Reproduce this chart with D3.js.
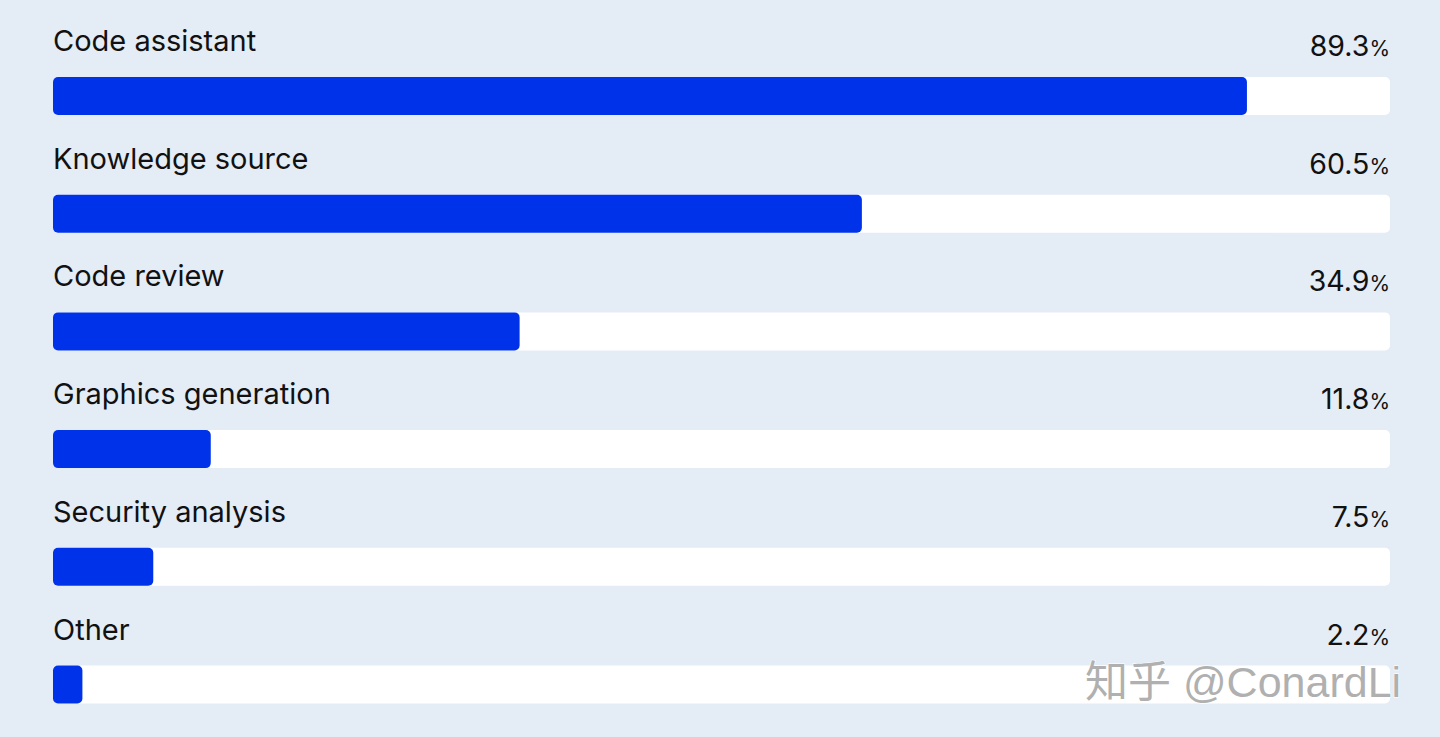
<!DOCTYPE html>
<html>
<head>
<meta charset="utf-8">
<script src="https://cdn.jsdelivr.net/npm/d3@7"></script>
<style>
  body { margin: 0; background: #e4ecf6; }
  svg { display: block; }
</style>
</head>
<body>
<div id="container"></div>
<script>
let width = 1440;
let height = 737;

// data
const categories = ["Code assistant", "Knowledge source", "Code review", "Graphics generation", "Security analysis", "Other"];
const values = [89.3, 60.5, 34.9, 11.8, 7.5, 2.2];

const margin = {left: 53, right: 50, top: 77};
const rowStep = 117.7;
const barH = 38;

let viz = d3.select("#container").append("svg")
  .attr("width", width)
  .attr("height", height);

viz.append("rect")
  .attr("width", width)
  .attr("height", height)
  .attr("fill", "#e4ecf6");

let x = d3.scaleLinear().domain([0, 100]).range([margin.left, width - margin.right]);

let rows = viz.selectAll(".row")
  .data(categories.map(function(c, i){ return {name: c, value: values[i]}; }))
  .enter().append("g")
  .attr("class", "row")
  .attr("transform", function(d, i){ return "translate(0," + (margin.top + i * rowStep) + ")"; });

// white track
rows.append("rect")
  .attr("x", x(0))
  .attr("y", 0)
  .attr("width", x(100) - x(0))
  .attr("height", barH)
  .attr("rx", 5)
  .attr("fill", "#ffffff");

// blue bar
rows.append("rect")
  .attr("x", x(0))
  .attr("y", 0)
  .attr("width", function(d){ return x(d.value) - x(0); })
  .attr("height", barH)
  .attr("rx", 5)
  .attr("fill", "#0033e9");

rows.append("text")
  .text(function(d){ return d.name; })
  .attr("x", x(0))
  .attr("y", -26)
  .style("font-family", "Inter, 'Noto Sans', sans-serif")
  .style("font-size", "29px")
  .style("fill", "#111");

let val = rows.append("text")
  .attr("x", x(100))
  .attr("y", -21)
  .attr("text-anchor", "end")
  .style("font-family", "Inter, 'Noto Sans', sans-serif")
  .style("fill", "#111");

val.append("tspan")
  .text(function(d){ return d.value.toFixed(1); })
  .style("font-size", "28.5px");
val.append("tspan")
  .text("%")
  .style("font-size", "21px");

// watermark
viz.append("text")
  .text("知乎 @ConardLi")
  .attr("x", 1085)
  .attr("y", 697)
  .style("font-family", "'Liberation Sans', 'Noto Sans CJK SC', sans-serif")
  .style("font-size", "43px")
  .style("fill", "#b0b0b0")
  .style("stroke", "#ffffff")
  .style("stroke-width", 1.2)
  .style("paint-order", "stroke");
</script>
</body>
</html>
